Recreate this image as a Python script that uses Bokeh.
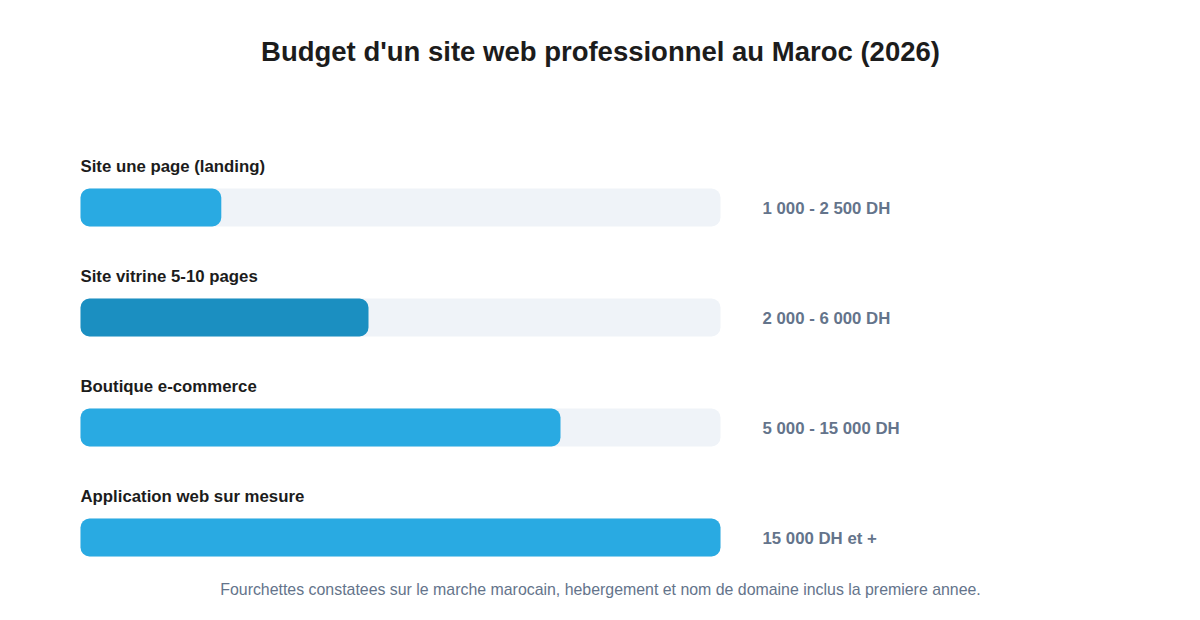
from bokeh.plotting import figure
from bokeh.models import Range1d, Label
from bokeh.core.properties import value
from bokeh.embed import file_html
from bokeh.resources import INLINE

# data
categories = ["Site une page (landing)", "Site vitrine 5-10 pages",
              "Boutique e-commerce", "Application web sur mesure"]
shares = [0.22, 0.45, 0.75, 1.0]
price_labels = ["1 000 - 2 500 DH", "2 000 - 6 000 DH",
                "5 000 - 15 000 DH", "15 000 DH et +"]
bar_colors = ["#29aae2", "#1b8fc1", "#29aae2", "#29aae2"]
title_text = "Budget d'un site web professionnel au Maroc (2026)"
note_text = ("Fourchettes constatees sur le marche marocain, hebergement "
             "et nom de domaine inclus la premiere annee.")

W, H = 1184, 604
FONT = "Liberation Sans"
rows = list(range(len(categories)))

# 640 px per unit on x, 110 px per row on y
x0_px, px_per_x = 80, 640
y0_px, px_per_row = 207, 110

p = figure(width=W, height=H, output_backend="svg", toolbar_location=None,
           tools="", min_border=0,
           x_range=Range1d(-x0_px / px_per_x, (W - x0_px) / px_per_x),
           y_range=Range1d((H - y0_px) / px_per_row, -y0_px / px_per_row))
p.axis.visible = False
p.grid.visible = False
p.outline_line_color = None
p.background_fill_color = "white"
p.border_fill_color = "white"

bar_h = 38 / px_per_row

# background tracks
p.hbar(y=rows, left=0, right=[1.0] * len(rows), height=bar_h,
       fill_color="#eff3f8", line_color=None, border_radius=9)

# filled bars
p.hbar(y=rows, left=0, right=shares, height=bar_h,
       fill_color=bar_colors, line_color=None, border_radius=9)

# category labels above each bar
p.text(x=[0] * len(rows), y=rows, text=categories, y_offset=-41,
       text_font=value(FONT), text_font_style="bold", text_font_size="16.8px",
       text_color="#1c1c1c", text_baseline="middle", text_align="left")

# price range labels on the right
p.text(x=[1.0] * len(rows), y=rows, text=price_labels, x_offset=42, y_offset=1,
       text_font=value(FONT), text_font_style="bold", text_font_size="16.8px",
       text_color="#64748b", text_baseline="middle", text_align="left")

p.add_layout(Label(x=600, y=H - 51, x_units="screen", y_units="screen",
                   text=title_text, text_font=FONT, text_font_style="bold",
                   text_font_size="27.5px", text_color="#1c1c1c",
                   text_align="center", text_baseline="middle"))
p.add_layout(Label(x=600, y=H - 589, x_units="screen", y_units="screen",
                   text=note_text, text_font=FONT, text_font_size="15.9px",
                   text_color="#64748b", text_align="center",
                   text_baseline="middle"))

open("out.html", "w").write(file_html(p, INLINE))
